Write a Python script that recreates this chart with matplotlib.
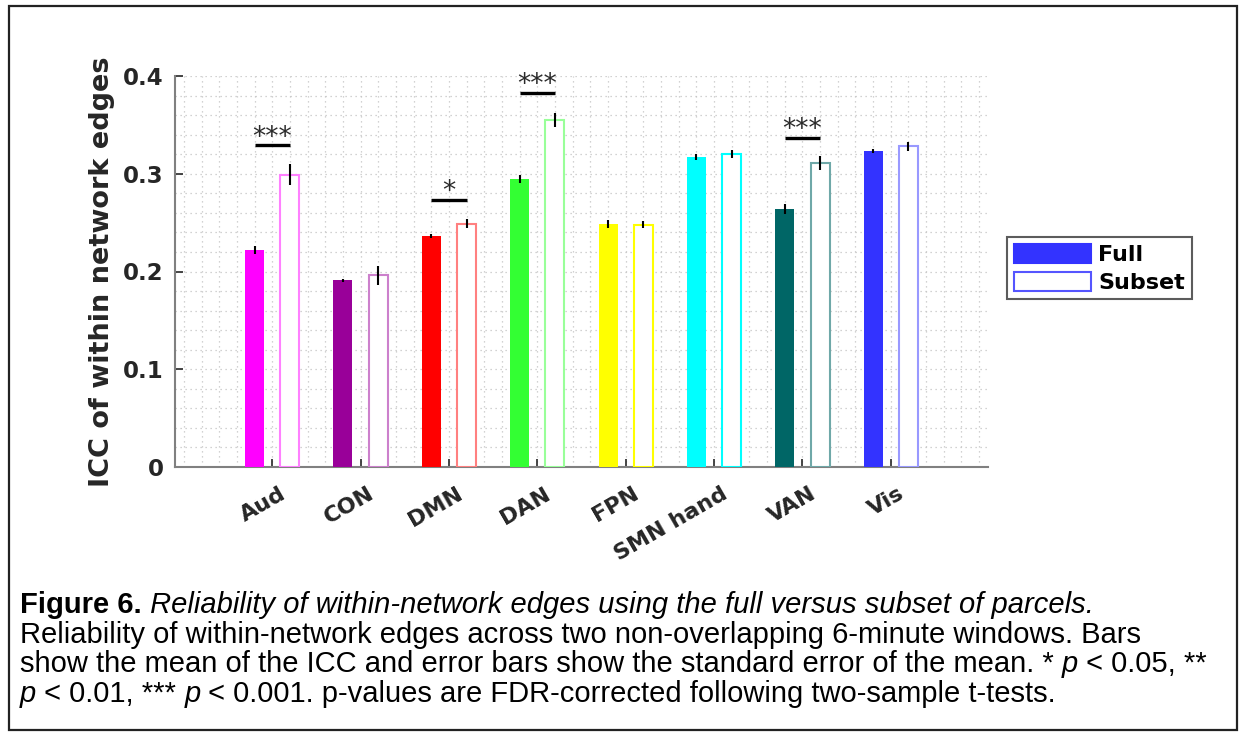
import numpy as np
import matplotlib
matplotlib.use("Agg")
import matplotlib.pyplot as plt
import matplotlib.transforms as mtransforms
from matplotlib.patches import Rectangle, Patch
from matplotlib.ticker import MultipleLocator

# ICC of within-network edges, full vs subset of parcels
networks = ["Aud", "CON", "DMN", "DAN", "FPN", "SMN hand", "VAN", "Vis"]
full_mean = [0.222, 0.191, 0.236, 0.295, 0.249, 0.317, 0.264, 0.323]
subset_mean = [0.299, 0.196, 0.249, 0.355, 0.248, 0.320, 0.311, 0.328]
full_sem = [0.004, 0.0015, 0.002, 0.004, 0.004, 0.003, 0.0055, 0.002]
subset_sem = [0.011, 0.010, 0.005, 0.007, 0.004, 0.004, 0.007, 0.0045]

# network colours (fill for full, outline for subset)
fill_colors = ["#ff00ff", "#990099", "#ff0000", "#33ff33",
               "#ffff00", "#00ffff", "#006666", "#3333ff"]
edge_colors = ["#ff80ff", "#cc80cc", "#ff8080", "#99ff99",
               "#ffff00", "#00ffff", "#6fa8a8", "#9999ff"]

# significant pairs: network index, stars, height of bracket
sig_idx = [0, 2, 3, 6]
sig_stars = ["***", "*", "***", "***"]
sig_y = [0.329, 0.2735, 0.383, 0.337]

fig = plt.figure(figsize=(12.43, 7.36), dpi=100)
ax = fig.add_axes([175 / 1243, 1 - 467 / 736, 813 / 1243, 391 / 736])

x = np.arange(1, len(networks) + 1)
off = 0.2
w = 0.215

ax.bar(x - off, full_mean, w, color=fill_colors, edgecolor=fill_colors, linewidth=0, zorder=3)
ax.bar(x + off, subset_mean, w, color="white", edgecolor=edge_colors, linewidth=1.5, zorder=3)
ax.errorbar(x - off, full_mean, yerr=full_sem, fmt="none", ecolor="black", elinewidth=1.5, capsize=0, zorder=4)
ax.errorbar(x + off, subset_mean, yerr=subset_sem, fmt="none", ecolor="black", elinewidth=1.5, capsize=0, zorder=4)

for i, s, yy in zip(sig_idx, sig_stars, sig_y):
    xc = x[i]
    ax.plot([xc - off, xc + off], [yy, yy], color="black", lw=2.4, solid_capstyle="butt", zorder=5)
    ax.text(xc, yy - 0.0055, s, ha="center", va="bottom", fontsize=19, color="#2a2a2a", zorder=5)

ax.set_xlim(-0.1, 9.1)
ax.set_ylim(0, 0.4)
ax.set_xticks(x)
ax.set_xticklabels(networks, rotation=30, ha="right", va="top", rotation_mode="anchor",
                   fontsize=16, fontweight="bold", color="#262626")
ax.set_yticks([0, 0.1, 0.2, 0.3, 0.4])
ax.set_yticklabels(["0", "0.1", "0.2", "0.3", "0.4"], fontsize=16.5, fontweight="bold", color="#262626")
ax.xaxis.set_minor_locator(MultipleLocator(0.2))
ax.yaxis.set_minor_locator(MultipleLocator(0.02))
ax.tick_params(axis="y", which="major", direction="in", length=6, width=1.2, color="#262626", pad=8)
ax.tick_params(axis="x", which="major", direction="in", length=6, width=1.2, color="#262626", pad=12)
ax.tick_params(axis="both", which="minor", length=0)
ax.grid(True, which="both", linestyle=(0, (1, 3)), color="#c4c4c4", linewidth=0.9, zorder=0)
ax.set_axisbelow(True)
for side in ["top", "right"]:
    ax.spines[side].set_visible(False)
for side in ["left", "bottom"]:
    ax.spines[side].set_color("#808080")
    ax.spines[side].set_linewidth(1.5)

# nudge the slanted labels to the right of their ticks
shift = mtransforms.ScaledTranslation(7 / 100, 0, fig.dpi_scale_trans)
for lbl in ax.get_xticklabels():
    lbl.set_transform(lbl.get_transform() + shift)

ax.set_ylabel("ICC of within network edges", fontsize=19.5, fontweight="bold", color="#262626", labelpad=6)

handles = [Patch(facecolor="#3333ff", edgecolor="#3333ff", linewidth=1.5),
           Patch(facecolor="white", edgecolor="#5555ff", linewidth=1.5)]
leg = fig.legend(handles, ["Full", "Subset"], loc="upper left",
                 bbox_to_anchor=(1007 / 1243, 1 - 237 / 736), bbox_transform=fig.transFigure,
                 fancybox=False, frameon=True, edgecolor="#333333", handlelength=3.5,
                 handleheight=0.95, handletextpad=0.3, borderpad=0.3, labelspacing=0.3,
                 borderaxespad=0, prop={"weight": "bold", "size": 16})
leg.get_frame().set_linewidth(1.5)

# outer frame around the whole figure
fig.patches.append(Rectangle((9 / 1243, 1 - 730 / 736), 1228 / 1243, 724 / 736,
                             transform=fig.transFigure, fill=False, edgecolor="#222222", linewidth=1.6))

# caption with mixed styles, drawn piece by piece
renderer = fig.canvas.get_renderer()
cap_font = "Liberation Sans"
cap_size = 21


def caption_line(parts, y_px):
    xpos = 20 / 1243
    for txt, style in parts:
        kw = {"family": cap_font, "fontsize": cap_size, "color": "black"}
        if style == "b":
            kw["fontweight"] = "bold"
        elif style == "i":
            kw["fontstyle"] = "italic"
        t = fig.text(xpos, 1 - y_px / 736, txt, ha="left", va="baseline", **kw)
        bb = t.get_window_extent(renderer=renderer)
        xpos = bb.x1 / fig.bbox.width


caption_line([("Figure 6.", "b"), (" Reliability of within-network edges using the full versus subset of parcels.", "i")], 613)
caption_line([("Reliability of within-network edges across two non-overlapping 6-minute windows. Bars", "n")], 643)
caption_line([("show the mean of the ICC and error bars show the standard error of the mean. * ", "n"),
              ("p", "i"), (" < 0.05, **", "n")], 672)
caption_line([("p", "i"), (" < 0.01, *** ", "n"), ("p", "i"),
              (" < 0.001. p-values are FDR-corrected following two-sample t-tests.", "n")], 702)

fig.savefig("out.png", dpi=100)
